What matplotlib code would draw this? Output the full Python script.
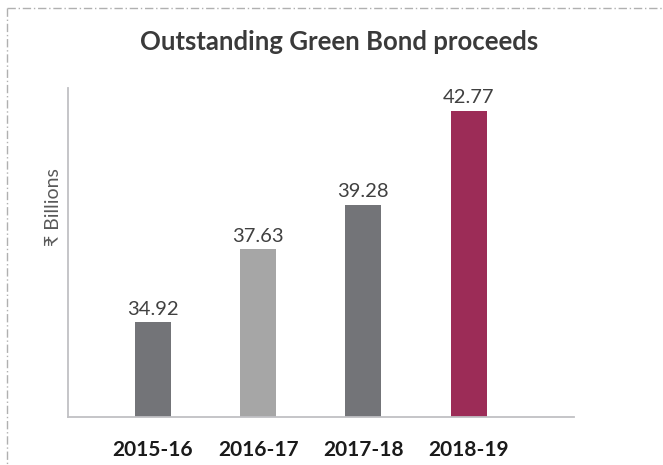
import matplotlib.pyplot as plt
import numpy as np
from matplotlib.lines import Line2D

# Outstanding green bond proceeds by fiscal year (Rs billions)
years = ["2015-16", "2016-17", "2017-18", "2018-19"]
proceeds = [34.92, 37.63, 39.28, 42.77]
bar_colors = ["#737478", "#a6a6a6", "#737478", "#9c2c57"]

plt.rcParams["font.family"] = ["Lato", "DejaVu Sans"]

fig = plt.figure(figsize=(6.63, 4.65), dpi=100)
ax = fig.add_axes([0.1033, 0.1039, 0.7625, 0.7062])

x = np.arange(len(years))
bars = ax.bar(x, proceeds, width=0.34, color=bar_colors, zorder=2)

# value labels sitting just above each bar
for xi, val in zip(x, proceeds):
    ax.annotate(f"{val:.2f}", (xi, val), xytext=(0, 3), textcoords="offset points",
                ha="center", va="bottom", fontsize=14.5, color="#404040")

ax.set_xlim(-0.8, 4.0)
ax.set_ylim(31.4, 43.6)
ax.set_xticks(x)
ax.set_xticklabels(years, fontsize=15, fontweight="bold", color="#1a1a1a")
ax.tick_params(axis="x", length=0, pad=17)
ax.set_yticks([])

for side in ["top", "right"]:
    ax.spines[side].set_visible(False)
for side in ["left", "bottom"]:
    ax.spines[side].set_color("#c0c0c4")
    ax.spines[side].set_linewidth(1.3)

fig.text(0.511, 0.91, "Outstanding Green Bond proceeds", ha="center", va="center",
         fontsize=18.5, fontweight="bold", color="#3a3a3a")
fig.text(0.081, 0.555, "\u20b9 Billions", rotation=90, ha="center", va="center",
         fontsize=14, fontweight="normal", color="#595959")

# dash-dot frame around the panel
frame_style = dict(color="#b0b0b0", linewidth=1.0, linestyle=(0, (6, 2, 1, 2)))
fig.add_artist(Line2D([7 / 663, 1.0], [1 - 8 / 465, 1 - 8 / 465], transform=fig.transFigure, **frame_style))
fig.add_artist(Line2D([7 / 663, 7 / 663], [1 - 8 / 465, 0.0], transform=fig.transFigure, **frame_style))

fig.savefig("out.png", dpi=100)
